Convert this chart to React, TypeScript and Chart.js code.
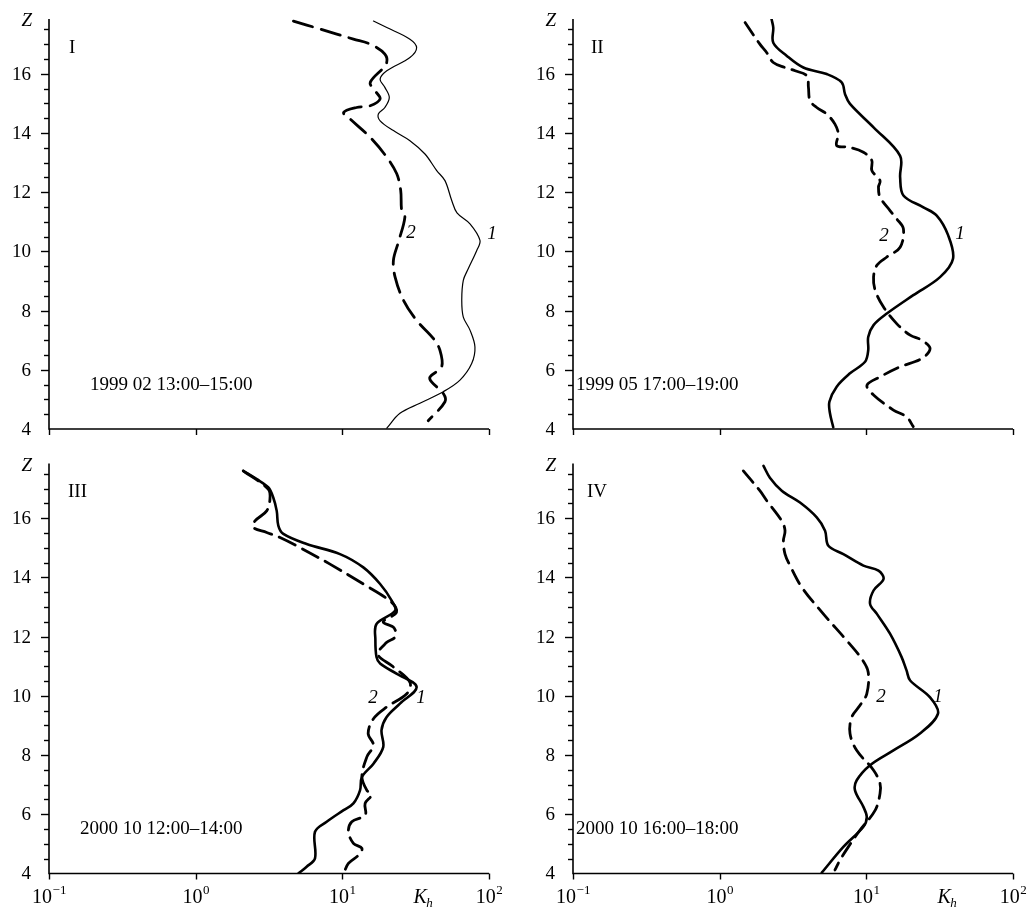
import React, { useEffect, useRef } from 'react';
import { Chart, registerables } from 'chart.js';
Chart.register(...registerables);

// ---------- axes ----------
const X_DECADES = [0.1, 1, 10, 100];
const X_EXPONENTS = ['\u22121', '0', '1', '2'];
const Y_MIN = 4;
const Y_MAX = 17.85;
const Y_LABELS = [4, 6, 8, 10, 12, 14, 16];

// ---------- Panel I : 1999 02 13:00–15:00 ----------
const p1Z1 = [17.78, 17.56, 17.17, 16.88, 16.55, 16.1, 15.82, 15.54, 15.2, 14.86, 14.64, 14.41, 14.08, 13.74, 13.29, 12.73, 12.39, 11.72, 11.3, 10.93, 10.37, 10.03, 9.42, 9.02, 8.35, 7.78, 7.34, 6.77, 6.21, 5.65, 5.26, 4.87, 4.53, 4.03];
const p1K1 = [16.3, 20.1, 28.9, 32.1, 28.9, 20.1, 18.1, 19.5, 20.9, 19.5, 17.6, 18.1, 22.3, 28.9, 36.6, 44.0, 50.1, 55.7, 60.5, 74.2, 86.8, 82.5, 72.3, 66.8, 65.2, 66.8, 74.2, 80.2, 76.2, 63.4, 48.8, 33.8, 24.7, 20.1];
const p1Z2 = [17.78, 17.51, 17.17, 17.0, 16.66, 16.33, 15.71, 15.43, 15.15, 14.92, 14.86, 14.69, 14.47, 13.85, 13.18, 12.62, 12.06, 11.38, 11.16, 10.31, 9.7, 9.13, 8.35, 7.67, 7.06, 6.66, 6.1, 5.76, 5.59, 5.2, 4.92, 4.28];
const p1K2 = [4.64, 7.05, 11.9, 15.5, 19.5, 19.9, 15.5, 16.7, 18.1, 15.5, 12.5, 10.2, 11.3, 15.5, 20.1, 23.5, 25.0, 25.4, 26.7, 24.1, 22.3, 22.9, 26.1, 32.1, 41.7, 46.3, 47.5, 39.6, 40.6, 48.8, 50.1, 38.5];

// ---------- Panel II : 1999 05 17:00–19:00 ----------
const p2Z1 = [17.84, 17.56, 17.05, 16.61, 16.21, 15.99, 15.71, 15.31, 14.98, 14.19, 13.23, 12.5, 11.89, 11.49, 11.21, 10.55, 9.75, 9.13, 8.52, 7.9, 7.51, 7.11, 6.66, 6.27, 5.88, 5.43, 4.92, 4.53, 4.06];
const p2K1 = [2.26, 2.32, 2.32, 2.86, 3.72, 5.37, 6.79, 7.16, 7.74, 11.2, 17.0, 17.0, 17.9, 24.5, 30.2, 36.1, 39.0, 31.8, 20.9, 13.8, 11.2, 10.3, 10.3, 9.8, 7.74, 6.28, 5.6, 5.65, 5.95];
const p2Z2 = [17.73, 17.0, 16.72, 16.38, 16.21, 16.1, 15.93, 15.54, 15.09, 14.86, 14.64, 14.3, 13.97, 13.57, 13.52, 13.35, 13.07, 12.73, 12.39, 12.17, 11.83, 11.38, 11.1, 10.76, 10.14, 9.81, 9.53, 9.13, 8.68, 8.12, 7.56, 7.17, 7.0, 6.72, 6.38, 6.1, 5.76, 5.48, 5.15, 4.64, 4.41, 4.08];
const p2K2 = [1.49, 1.88, 2.09, 2.32, 2.79, 3.27, 3.93, 4.03, 4.13, 4.59, 5.37, 6.11, 6.44, 6.28, 7.54, 9.55, 10.9, 10.9, 12.4, 12.1, 12.4, 14.5, 16.1, 17.9, 17.0, 13.8, 11.8, 11.2, 11.5, 13.1, 16.1, 19.9, 23.9, 27.2, 23.9, 17.0, 12.4, 10.1, 11.2, 15.3, 18.8, 20.9];

// ---------- Panel III : 2000 10 12:00–14:00 ----------
const p3Z1 = [17.6, 17.32, 17.04, 16.7, 16.25, 15.75, 15.47, 15.13, 14.79, 14.34, 13.78, 13.22, 12.88, 12.43, 11.9, 11.31, 11.09, 10.75, 10.3, 9.74, 9.28, 8.84, 8.27, 7.71, 7.26, 6.81, 6.37, 6.14, 5.75, 5.41, 4.51, 4.23, 4.0];
const p3K1 = [2.11, 2.61, 3.13, 3.38, 3.57, 3.66, 3.96, 5.71, 9.64, 13.9, 18.1, 21.7, 22.9, 17.1, 16.8, 17.1, 18.1, 23.4, 32.1, 24.7, 20.0, 18.5, 19.0, 16.3, 13.6, 13.2, 11.9, 10.2, 7.82, 6.51, 6.51, 5.71, 5.01];
const p3Z2 = [17.6, 16.98, 16.65, 16.25, 15.91, 15.69, 15.52, 15.35, 15.01, 14.45, 13.78, 13.16, 12.82, 12.5, 12.3, 12.0, 11.8, 11.4, 11.0, 10.46, 10.07, 9.62, 9.23, 8.73, 8.33, 7.94, 7.26, 6.81, 6.65, 6.37, 5.97, 5.75, 5.41, 5.02, 4.85, 4.62, 4.34, 4.0];
const p3K2 = [2.11, 3.13, 3.21, 3.05, 2.54, 2.47, 3.05, 3.76, 5.14, 8.24, 13.9, 21.7, 23.4, 19.0, 22.5, 23.0, 20.0, 17.5, 22.0, 28.9, 27.5, 20.0, 16.3, 15.0, 16.3, 14.7, 13.6, 14.7, 15.8, 14.3, 14.3, 11.6, 11.0, 11.9, 13.6, 12.9, 11.0, 10.2];

// ---------- Panel IV : 2000 10 16:00–18:00 ----------
const p4Z1 = [17.77, 17.37, 16.93, 16.53, 16.03, 15.58, 15.07, 14.79, 14.4, 14.23, 13.95, 13.56, 13.11, 12.77, 12.1, 11.31, 10.86, 10.52, 9.95, 9.4, 8.73, 8.16, 7.66, 7.15, 6.81, 6.25, 5.91, 5.58, 4.9, 4.03];
const p4K1 = [1.99, 2.2, 2.65, 3.53, 4.59, 5.23, 5.51, 6.97, 9.55, 12.1, 13.1, 11.2, 10.6, 11.8, 14.5, 17.4, 18.8, 19.9, 27.2, 30.8, 23.2, 15.3, 10.6, 8.6, 8.37, 9.55, 10.07, 9.55, 6.97, 4.97];
const p4Z2 = [17.6, 16.93, 16.6, 15.91, 15.58, 15.24, 14.79, 14.4, 13.67, 12.77, 11.87, 11.25, 10.8, 10.07, 9.68, 9.28, 8.73, 8.16, 7.49, 7.04, 6.7, 6.14, 5.47, 4.9, 4.45, 4.12];
const p4K2 = [1.45, 1.88, 2.09, 2.65, 2.79, 2.72, 2.79, 3.02, 3.63, 5.09, 7.35, 9.3, 10.3, 10.07, 9.06, 7.95, 7.74, 8.59, 11.2, 12.4, 12.4, 11.5, 9.06, 7.54, 6.61, 6.11];

// ---------- texts ----------
const ROMAN = ['I', 'II', 'III', 'IV'];
const DATES = ['1999 02 13:00\u201315:00', '1999 05 17:00\u201319:00', '2000 10 12:00\u201314:00', '2000 10 16:00\u201318:00'];
// curve-number labels, in data units [K, Z]
const LABEL1_AT = [[104.7, 10.6], [43.5, 10.59], [34.4, 9.93], [30.8, 9.96]];
const LABEL2_AT = [[29.4, 10.62], [13.2, 10.52], [16.2, 9.93], [12.6, 9.96]];

const SERIF = '"Liberation Serif", "Times New Roman", serif';

type Panel = {
  k1: number[]; z1: number[]; k2: number[]; z2: number[];
  left: number; top: number; w: number; h: number;
  yw: number; padTop: number; padRight: number; xh: number;
  w1: number; dash: number[]; bottomLabels: boolean; idx: number;
  romanDx: number; dateDx: number;
};

const PANELS: Panel[] = [
  { k1: p1K1, z1: p1Z1, k2: p1K2, z2: p1Z2, left: 0, top: 0, w: 516, h: 440, yw: 49, padTop: 19, padRight: 27, xh: 11, w1: 1.2, dash: [20, 9], bottomLabels: false, idx: 0, romanDx: 20, dateDx: 41 },
  { k1: p2K1, z1: p2Z1, k2: p2K2, z2: p2Z2, left: 516, top: 0, w: 516, h: 440, yw: 57, padTop: 19, padRight: 19, xh: 11, w1: 2.6, dash: [15, 8], bottomLabels: false, idx: 1, romanDx: 18, dateDx: 3 },
  { k1: p3K1, z1: p3Z1, k2: p3K2, z2: p3Z2, left: 0, top: 440, w: 516, h: 474, yw: 49, padTop: 23.5, padRight: 27, xh: 40.5, w1: 2.6, dash: [18, 8], bottomLabels: true, idx: 2, romanDx: 19, dateDx: 31 },
  { k1: p4K1, z1: p4Z1, k2: p4K2, z2: p4Z2, left: 516, top: 440, w: 516, h: 474, yw: 57, padTop: 23.5, padRight: 19, xh: 40.5, w1: 2.6, dash: [15, 8], bottomLabels: true, idx: 3, romanDx: 14, dateDx: 3 },
];

const zip = (k: number[], z: number[]) => k.map((v, i) => ({ x: v, y: z[i] }));

function decorPlugin(p: Panel) {
  return {
    id: 'decor' + p.idx,
    afterDraw(chart: any) {
      const { ctx, chartArea: a, scales } = chart;
      const x = scales.x, y = scales.y;
      ctx.save();
      ctx.strokeStyle = '#000';
      ctx.fillStyle = '#000';
      // axis lines
      ctx.lineWidth = 1.6;
      ctx.beginPath();
      ctx.moveTo(a.left, a.top);
      ctx.lineTo(a.left, a.bottom);
      ctx.lineTo(a.right, a.bottom);
      ctx.stroke();
      // y ticks every 0.5
      ctx.lineWidth = 1.4;
      const n = Math.floor((Y_MAX - Y_MIN) / 0.5 + 1e-6);
      for (let i = 1; i <= n; i++) {
        const v = Y_MIN + i * 0.5;
        const py = Math.round(y.getPixelForValue(v)) + 0.5;
        const major = Y_LABELS.includes(v);
        ctx.beginPath();
        ctx.moveTo(a.left - (major ? 8 : 5), py);
        ctx.lineTo(a.left, py);
        ctx.stroke();
      }
      // x ticks
      for (const v of X_DECADES) {
        const px = Math.round(x.getPixelForValue(v)) + 0.5;
        ctx.beginPath();
        ctx.moveTo(px, a.bottom);
        ctx.lineTo(px, a.bottom + 6);
        ctx.stroke();
      }
      // y labels
      ctx.font = `19px ${SERIF}`;
      ctx.textAlign = 'right';
      ctx.textBaseline = 'middle';
      for (const v of Y_LABELS) {
        ctx.fillText(String(v), a.left - 18, y.getPixelForValue(v) + 1);
      }
      // Z label
      ctx.font = `italic 19px ${SERIF}`;
      ctx.fillText('Z', a.left - 17, a.top + 2);
      // x labels
      if (p.bottomLabels) {
        const ly = a.bottom + 24;
        X_DECADES.forEach((v, i) => {
          const px = x.getPixelForValue(v);
          ctx.font = `20px ${SERIF}`;
          const wb = ctx.measureText('10').width;
          ctx.font = `13px ${SERIF}`;
          const we = ctx.measureText(X_EXPONENTS[i]).width;
          const start = px - (wb + we) / 2;
          ctx.textAlign = 'left';
          ctx.font = `20px ${SERIF}`;
          ctx.fillText('10', start, ly);
          ctx.font = `13px ${SERIF}`;
          ctx.fillText(X_EXPONENTS[i], start + wb + 0.5, ly - 7);
        });
        // K_h
        const kx = x.getPixelForValue(34);
        ctx.textAlign = 'center';
        ctx.font = `italic 20px ${SERIF}`;
        ctx.fillText('K', kx, ly);
        ctx.font = `italic 13px ${SERIF}`;
        ctx.textAlign = 'left';
        ctx.fillText('h', kx + 6, ly + 6);
      }
      // roman numeral
      ctx.font = `19px ${SERIF}`;
      ctx.textAlign = 'left';
      ctx.fillText(ROMAN[p.idx], a.left + p.romanDx, a.top + 29);
      // date
      ctx.fillText(DATES[p.idx], a.left + p.dateDx, a.bottom - 44);
      // curve numbers
      ctx.font = `italic 19px ${SERIF}`;
      ctx.textAlign = 'center';
      const l1 = LABEL1_AT[p.idx], l2 = LABEL2_AT[p.idx];
      ctx.fillText('1', x.getPixelForValue(l1[0]), y.getPixelForValue(l1[1]));
      ctx.fillText('2', x.getPixelForValue(l2[0]), y.getPixelForValue(l2[1]));
      ctx.restore();
    },
  };
}

function PanelChart({ p }: { p: Panel }) {
  const ref = useRef<HTMLCanvasElement | null>(null);
  useEffect(() => {
    if (!ref.current) return;
    const chart = new Chart(ref.current, {
      type: 'line',
      data: {
        datasets: [
          {
            data: zip(p.k1, p.z1),
            borderColor: '#000',
            borderWidth: p.w1,
            pointRadius: 0,
            tension: 0.35,
            fill: false,
            borderCapStyle: 'round',
            borderJoinStyle: 'round',
          },
          {
            data: zip(p.k2, p.z2),
            borderColor: '#000',
            borderWidth: 2.8,
            borderDash: p.dash,
            pointRadius: 0,
            tension: 0.35,
            fill: false,
            borderCapStyle: 'round',
            borderJoinStyle: 'round',
          },
        ],
      } as any,
      options: {
        animation: false,
        responsive: false,
        maintainAspectRatio: false,
        events: [],
        layout: { padding: { top: p.padTop, right: p.padRight, left: 0, bottom: 0 } },
        plugins: { legend: { display: false }, tooltip: { enabled: false } },
        scales: {
          x: {
            type: 'logarithmic',
            min: 0.1,
            max: 100,
            afterBuildTicks: (s: any) => { s.ticks = X_DECADES.map((v) => ({ value: v })); },
            ticks: { display: false },
            grid: { display: false },
            border: { display: false },
            afterFit: (s: any) => { s.height = p.xh; },
          },
          y: {
            type: 'linear',
            min: Y_MIN,
            max: Y_MAX,
            afterBuildTicks: (s: any) => { s.ticks = Y_LABELS.map((v) => ({ value: v })); },
            ticks: { display: false },
            grid: { display: false },
            border: { display: false },
            afterFit: (s: any) => { s.width = p.yw; },
          },
        },
      } as any,
      plugins: [decorPlugin(p)],
    });
    return () => chart.destroy();
  }, [p]);
  return (
    <canvas
      ref={ref}
      width={p.w}
      height={p.h}
      style={{ position: 'absolute', left: p.left, top: p.top, width: p.w, height: p.h }}
    />
  );
}

export default function App() {
  return (
    <div style={{ position: 'absolute', left: 0, top: 0, width: 1032, height: 914, background: '#fff', overflow: 'hidden' }}>
      {PANELS.map((p) => (
        <PanelChart key={p.idx} p={p} />
      ))}
    </div>
  );
}
